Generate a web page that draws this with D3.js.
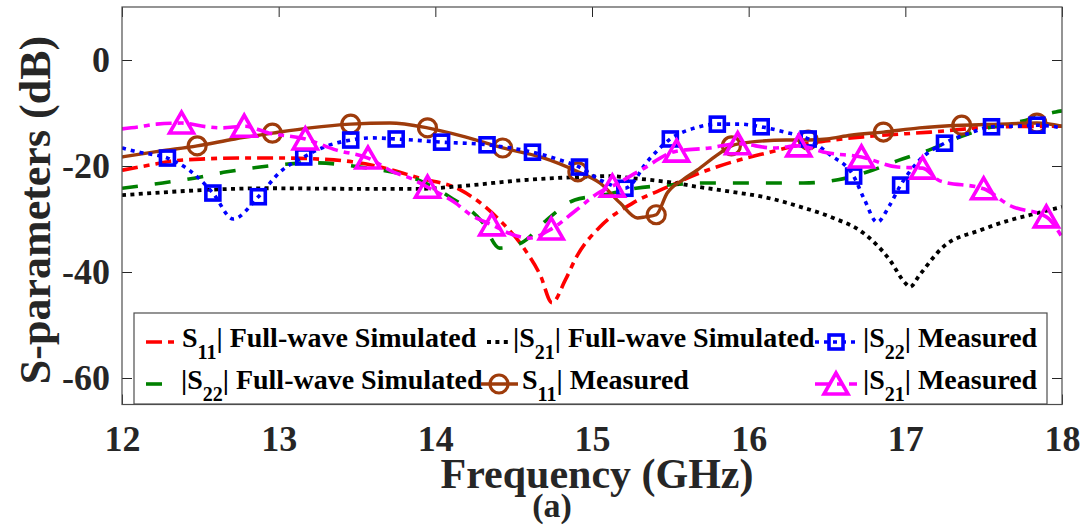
<!DOCTYPE html>
<html><head><meta charset="utf-8">
<script src="https://cdn.jsdelivr.net/npm/d3@7"></script>
<style>
body{margin:0;background:#fff}
svg{display:block}
</style>
</head><body>
<svg id="c" width="1085" height="526"></svg>
<script>
// ---------- data ----------
const xTicks = [12, 13, 14, 15, 16, 17, 18];
const yTicks = [0, -20, -40, -60];
const xLabel = "Frequency (GHz)";
const yLabel = "S-parameters (dB)";
const subCaption = "(a)";

// |S11| full-wave simulated
const s11SimF = [12.00,12.18,12.31,12.50,12.75,13.01,13.26,13.47,13.65,13.90,14.16,14.41,14.56,14.67,14.745,14.83,14.90,15.05,15.26,15.48,15.69,15.90,16.12,16.33,16.54,16.73,17.16,17.60,18.00];
const s11SimV = [-20.8,-19.8,-19.1,-18.7,-18.5,-18.5,-18.7,-19.2,-20.2,-22.3,-24.5,-30.2,-35.3,-40.6,-45.8,-41.5,-37.2,-31.5,-27.0,-24.0,-21.3,-19.2,-17.5,-16.0,-15.1,-14.5,-13.6,-12.6,-12.5];

// |S22| full-wave simulated
const s22SimF = [12.00,12.26,12.46,12.67,12.88,13.22,13.52,13.89,14.09,14.30,14.41,14.55,14.71,14.89,15.05,15.28,15.49,15.70,16.06,16.35,16.57,16.76,16.96,17.15,17.35,17.53,17.75,17.96,18.00];
const s22SimV = [-24.2,-23.2,-22.3,-21.1,-20.2,-19.4,-20.2,-22.6,-25.8,-30.6,-35.5,-34.5,-30.2,-26.4,-25.6,-24.2,-23.6,-23.2,-23.2,-23.2,-22.6,-21.1,-18.9,-17.0,-14.5,-12.8,-11.5,-9.8,-9.6];

// |S21| full-wave simulated
const s21SimF = [12.00,12.94,13.47,13.90,14.16,14.59,14.90,15.11,15.26,15.48,15.69,15.90,16.12,16.33,16.54,16.73,16.90,17.00,17.03,17.09,17.24,17.48,17.67,17.80,18.00];
const s21SimV = [-25.5,-24.2,-24.3,-24.3,-23.8,-22.6,-22.1,-21.9,-22.3,-23.0,-24.0,-24.9,-26.0,-27.7,-29.8,-32.6,-37.7,-42.1,-42.8,-40.6,-35.3,-32.1,-30.2,-29.2,-27.7];

// |S11| measured
const s11MeasF = [12.00,12.24,12.48,12.72,12.96,13.20,13.46,13.71,13.95,14.19,14.43,14.67,14.91,15.05,15.18,15.29,15.34,15.41,15.48,15.58,15.67,15.80,15.89,16.01,16.24,16.38,16.50,16.65,16.86,17.09,17.36,17.60,17.84,18.00];
const s11MeasV = [-18.3,-17.2,-16.2,-14.9,-13.8,-12.8,-12.1,-11.9,-12.8,-14.5,-16.6,-18.3,-21.1,-23.2,-27.0,-29.8,-29.6,-29.2,-25.1,-22.6,-20.8,-17.9,-16.2,-15.5,-15.1,-15.1,-14.9,-14.2,-13.6,-12.8,-12.3,-12.1,-11.9,-12.5];
const s11MarkF = [12.48,12.96,13.46,13.95,14.43,14.91,15.41,15.89,16.38,16.86,17.36,17.84];
const s11MarkV = [-16.2,-13.8,-12.1,-12.8,-16.6,-21.1,-29.2,-16.2,-15.1,-13.6,-12.3,-11.9];

// |S22| measured
const s22MeasF = [12.00,12.11,12.29,12.43,12.58,12.71,12.87,13.01,13.16,13.31,13.46,13.60,13.75,14.04,14.33,14.62,14.80,14.92,15.05,15.21,15.36,15.50,15.66,15.80,15.94,16.08,16.23,16.38,16.52,16.67,16.74,16.82,16.90,16.97,17.09,17.25,17.41,17.55,17.70,17.84,18.00];
const s22MeasV = [-16.6,-17.4,-18.5,-20.8,-25.1,-30.0,-25.8,-21.1,-18.3,-16.2,-15.1,-14.7,-14.9,-15.5,-16.0,-17.4,-18.9,-20.2,-22.6,-24.2,-18.9,-14.9,-12.8,-12.1,-12.1,-12.6,-13.6,-14.9,-17.9,-21.9,-26.4,-30.6,-27.4,-23.6,-18.9,-15.7,-13.8,-12.6,-12.5,-12.3,-12.8];
const s22MarkF = [12.29,12.58,12.87,13.16,13.46,13.75,14.04,14.33,14.62,14.92,15.21,15.50,15.80,16.08,16.38,16.67,16.97,17.25,17.55,17.84];
const s22MarkV = [-18.5,-25.1,-25.8,-18.3,-15.1,-14.9,-15.5,-16.0,-17.4,-20.2,-24.2,-14.9,-12.1,-12.6,-14.9,-21.9,-23.6,-15.7,-12.6,-12.3];

// |S21| measured
const s21MeasF = [12.00,12.11,12.22,12.38,12.54,12.64,12.78,12.94,13.17,13.37,13.57,13.73,13.84,13.95,14.13,14.22,14.36,14.52,14.60,14.74,14.90,15.05,15.13,15.31,15.54,15.75,15.93,16.16,16.32,16.50,16.72,16.95,17.11,17.22,17.50,17.67,17.90,18.00];
const s21MeasV = [-13.0,-12.6,-12.1,-11.9,-12.6,-12.8,-12.5,-13.8,-14.9,-17.0,-18.5,-21.1,-22.3,-24.0,-27.0,-29.1,-31.1,-33.2,-33.6,-31.9,-28.3,-24.9,-23.8,-20.8,-17.2,-16.6,-15.8,-16.6,-16.2,-17.5,-18.3,-20.2,-20.4,-22.8,-24.3,-27.5,-29.6,-33.4];
const s21MarkF = [12.38,12.78,13.17,13.57,13.95,14.36,14.74,15.13,15.54,15.93,16.32,16.72,17.11,17.50,17.90];
const s21MarkV = [-11.9,-12.5,-14.9,-18.5,-24.0,-31.1,-31.9,-23.8,-17.2,-15.8,-16.2,-18.3,-20.4,-24.3,-29.6];

const legendNames = [
  ["S", "11", "| Full-wave Simulated"],
  ["|S", "22", "| Full-wave Simulated"],
  ["|S", "21", "| Full-wave Simulated"],
  ["S", "11", "| Measured"],
  ["|S", "22", "| Measured"],
  ["|S", "21", "| Measured"]
];

// ---------- chart ----------
const FONT = '"Liberation Serif"';
const svg = d3.select("#c");
const L = 122, R = 1062, T = 7, B = 404.5;
const x = d3.scaleLinear().domain([12, 18]).range([L, R]);
const y = d3.scaleLinear().domain([-65, 10]).range([B, T]);
const axisCol = "#262626";

function styleText(sel, size, col) {
  return sel.style("font-family", FONT).attr("font-weight", "bold")
    .attr("font-size", size).attr("fill", col);
}

svg.append("defs").append("clipPath").attr("id", "clip")
  .append("rect").attr("x", L).attr("y", T).attr("width", R - L).attr("height", B - T);

const series = [
  {f: s11SimF, v: s11SimV, color: "#ff0000", dash: "16,6,6,6", w: 3.6},
  {f: s22SimF, v: s22SimV, color: "#008000", dash: "16,17", w: 3.6},
  {f: s21SimF, v: s21SimV, color: "#000000", dash: "4,4.4", w: 3.8},
  {f: s11MeasF, v: s11MeasV, color: "#9e3b0b", dash: null, w: 3.4, mf: s11MarkF, mv: s11MarkV, marker: "circle"},
  {f: s22MeasF, v: s22MeasV, color: "#0000ff", dash: "4,5", w: 3.6, mf: s22MarkF, mv: s22MarkV, marker: "square"},
  {f: s21MeasF, v: s21MeasV, color: "#ff00ff", dash: "16,6,6,6", w: 3.6, mf: s21MarkF, mv: s21MarkV, marker: "triangle"}
];

const line = d3.line().x(d => x(d[0])).y(d => y(d[1])).curve(d3.curveMonotoneX);
const plot = svg.append("g").attr("clip-path", "url(#clip)");

function drawMarker(g, kind, cx, cy, color) {
  if (kind === "circle") {
    g.append("circle").attr("cx", cx).attr("cy", cy).attr("r", 9)
      .attr("fill", "none").attr("stroke", color).attr("stroke-width", 3.2);
  } else if (kind === "square") {
    g.append("rect").attr("x", cx - 7).attr("y", cy - 7).attr("width", 14).attr("height", 14)
      .attr("fill", "none").attr("stroke", color).attr("stroke-width", 3.6);
  } else {
    g.append("path").attr("transform", `translate(${cx},${cy})`)
      .attr("d", "M0,-11L12,10L-12,10Z")
      .attr("fill", "none").attr("stroke", color).attr("stroke-width", 3.6)
      .attr("stroke-linejoin", "miter");
  }
}

series.forEach(s => {
  const pts = s.f.map((f, i) => [f, s.v[i]]);
  plot.append("path").datum(pts).attr("d", line)
    .attr("fill", "none").attr("stroke", s.color).attr("stroke-width", s.w)
    .attr("stroke-dasharray", s.dash).attr("stroke-linejoin", "round");
  if (s.marker) {
    s.mf.forEach((f, i) => drawMarker(plot, s.marker, x(f), y(s.mv[i]), s.color));
  }
});

// axes (ticks inward, MATLAB box)
const gx = svg.append("g").attr("transform", `translate(0,${B})`)
  .call(d3.axisBottom(x).tickValues(xTicks).tickSizeInner(-10).tickSizeOuter(0).tickFormat(d3.format("d")));
const gy = svg.append("g").attr("transform", `translate(${L},0)`)
  .call(d3.axisLeft(y).tickValues(yTicks).tickSizeInner(-10).tickSizeOuter(0).tickFormat(d => d));
const gxt = svg.append("g").attr("transform", `translate(0,${T})`)
  .call(d3.axisTop(x).tickValues(xTicks).tickSizeInner(-10).tickSizeOuter(0).tickFormat(""));
const gyr = svg.append("g").attr("transform", `translate(${R},0)`)
  .call(d3.axisRight(y).tickValues(yTicks).tickSizeInner(-10).tickSizeOuter(0).tickFormat(""));
[gx, gy, gxt, gyr].forEach(g => {
  g.attr("font-family", null).attr("font-size", null);
  g.select(".domain").remove();
  g.selectAll(".tick line").attr("stroke", axisCol).attr("stroke-width", 1);
});
styleText(gx.selectAll(".tick text").attr("y", 46.5).attr("dy", null), 36, axisCol);
styleText(gy.selectAll(".tick text").attr("x", -12).attr("dy", "0.33em"), 36, axisCol);

svg.append("rect").attr("x", L).attr("y", T).attr("width", R - L).attr("height", B - T)
  .attr("fill", "none").attr("stroke", "#4d4d4d").attr("stroke-width", 1.2);

// legend
const lg = svg.append("g");
lg.append("rect").attr("x", 134).attr("y", 313).attr("width", 913).attr("height", 91)
  .attr("fill", "#fff").attr("stroke", "#4d4d4d").attr("stroke-width", 1.2);
const legendPos = [
  {lx0: 146, lx1: 174, mx: 160, tx: 182, row: 0},
  {lx0: 146, lx1: 174, mx: 160, tx: 181, row: 1},
  {lx0: 487, lx1: 508, mx: 497, tx: 513, row: 0},
  {lx0: 481, lx1: 518, mx: 499, tx: 522, row: 1},
  {lx0: 815, lx1: 857, mx: 836, tx: 863, row: 0},
  {lx0: 815, lx1: 857, mx: 836, tx: 863, row: 1}
];
const rowBase = [347, 389];
series.forEach((s, i) => {
  const p = legendPos[i];
  const ly = rowBase[p.row] - 5;
  lg.append("line").attr("x1", p.lx0).attr("x2", p.lx1).attr("y1", ly).attr("y2", ly)
    .attr("stroke", s.color).attr("stroke-width", s.w).attr("stroke-dasharray", s.dash);
  if (s.marker) drawMarker(lg, s.marker, p.mx, ly, s.color);
  const t = styleText(lg.append("text").attr("x", p.tx).attr("y", rowBase[p.row]), 28, "#000");
  const nm = legendNames[i];
  t.append("tspan").text(nm[0]);
  t.append("tspan").attr("dy", 12).attr("font-size", 20).text(nm[1]);
  t.append("tspan").attr("dy", -12).text(nm[2]);
});

// titles
styleText(svg.append("text").attr("x", 597).attr("y", 488).attr("text-anchor", "middle"), 42, axisCol).text(xLabel);
styleText(svg.append("text").attr("x", 552).attr("y", 517).attr("text-anchor", "middle"), 34, axisCol).text(subCaption);
styleText(svg.append("text").attr("transform", "translate(50,210) rotate(-90)").attr("text-anchor", "middle"), 44, axisCol).text(yLabel);
</script>
</body></html>
